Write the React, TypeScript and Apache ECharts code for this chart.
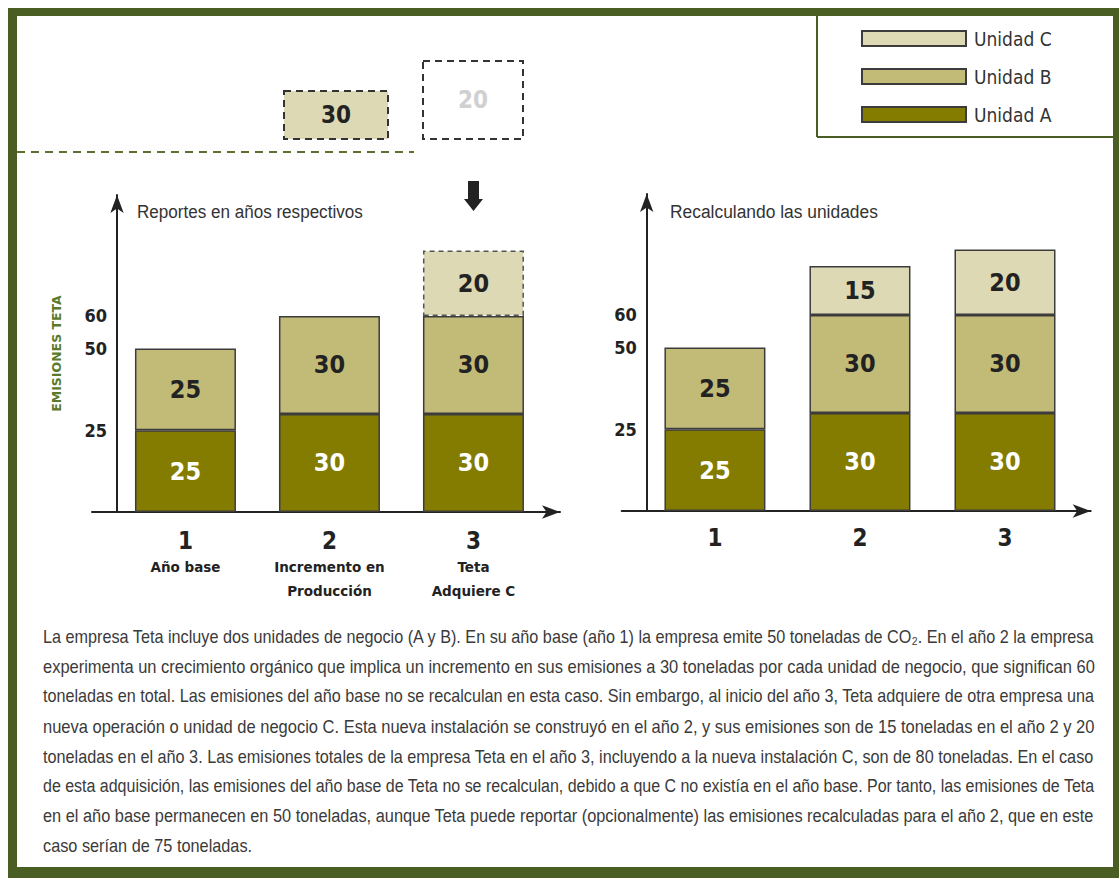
import React, { useEffect, useRef } from "react";
import * as echarts from "echarts";

// ---- data ----
const xPos = [1, 2, 3];
const leftCategoryLabels = ["Año base", "Incremento en\nProducción", "Teta\nAdquiere C"];
const reportedA = [25, 30, 30];
const reportedB = [25, 30, 30];
const reportedC: (number | null)[] = [null, null, 20];
const recalcA = [25, 30, 30];
const recalcB = [25, 30, 30];
const recalcC: (number | null)[] = [null, 15, 20];
const yTickValues = [25, 50, 60];
const unitNames = ["Unidad A", "Unidad B", "Unidad C"];
const leftTitle = "Reportes en años respectivos";
const rightTitle = "Recalculando las unidades";
const yAxisName = "EMISIONES TETA";
const topBoxValues = ["30", "20"];
const paragraphLines = [
  "La empresa Teta incluye dos unidades de negocio (A y B). En su año base (año 1) la empresa emite 50 toneladas de CO₂. En el año 2 la empresa",
  "experimenta un crecimiento orgánico que implica un incremento en sus emisiones a 30 toneladas por cada unidad de negocio, que significan 60",
  "toneladas en total. Las emisiones del año base no se recalculan en esta caso. Sin embargo, al inicio del año 3, Teta adquiere de otra empresa una",
  "nueva operación o unidad de negocio C. Esta nueva instalación se construyó en el año 2, y sus emisiones son de 15 toneladas en el año 2 y 20",
  "toneladas en el año 3. Las emisiones totales de la empresa Teta en el año 3, incluyendo a la nueva instalación C, son de 80 toneladas. En el caso",
  "de esta adquisición, las emisiones del año base de Teta no se recalculan, debido a que C no existía en el año base. Por tanto, las emisiones de Teta",
  "en el año base permanecen en 50 toneladas, aunque Teta puede reportar (opcionalmente) las emisiones recalculadas para el año 2, que en este",
  "caso serían de 75 toneladas.",
];

// ---- styles ----
const COND = '"DejaVu Sans Condensed", "Liberation Sans Narrow", sans-serif';
const BOLDW = '"DejaVu Sans", "Liberation Sans", sans-serif';
const TEXTF = "Liberation Sans";
const COL_A = "#847c00";
const COL_B = "#c2bb78";
const COL_C = "#ddd9b4";
const FRAME = "#4a5d23";
const INK = "#222";

let measureCtx: CanvasRenderingContext2D | null = null;
function measure(text: string, size: number, weight = "normal") {
  if (!measureCtx) measureCtx = document.createElement("canvas").getContext("2d");
  if (!measureCtx) return text.length * size * 0.5;
  measureCtx.font = `${weight} ${size}px "${TEXTF}"`;
  return measureCtx.measureText(text).width;
}

// A text squeezed horizontally to fit a target width (the original uses a condensed face)
function fitText(text: string, x: number, y: number, size: number, target: number, fill: string, weight = "normal", align = "left") {
  const w = measure(text, size, weight);
  const s = Math.min(1, target / w);
  return {
    type: "text",
    x,
    y,
    scaleX: s,
    style: { text, fill, fontSize: size, fontWeight: weight, fontFamily: TEXTF, align, verticalAlign: "middle" },
  };
}

function barSeries(
  name: string,
  values: (number | null)[],
  idx: number,
  color: string,
  labelColor: string,
  dashed = false
) {
  return {
    type: "bar",
    name,
    xAxisIndex: idx,
    yAxisIndex: idx,
    stack: "g" + idx,
    barWidth: 101,
    encode: { x: 1, y: 0 },
    data: values.map((v, i) => [v == null ? "-" : v, xPos[i]]),
    itemStyle: {
      color,
      borderColor: dashed ? "#555" : "#3c3c3c",
      borderWidth: 1.5,
      borderType: dashed ? [5, 4] : "solid",
    },
    label: {
      show: true,
      position: "inside",
      formatter: (p: any) => String(p.value[0]),
      color: labelColor,
      fontSize: 25,
      fontWeight: "bold",
      fontFamily: COND,
    },
  };
}

function xAxisDef(idx: number, min: number, max: number, withNames: boolean) {
  return {
    type: "value",
    gridIndex: idx,
    min,
    max,
    splitLine: { show: false },
    axisTick: { show: false },
    axisLine: {
      show: true,
      onZero: false,
      symbol: ["none", "arrow"],
      symbolSize: [10, 18],
      lineStyle: { color: INK, width: 2 },
    },
    axisLabel: {
      customValues: xPos,
      margin: withNames ? 15 : 13,
      formatter: (v: number) => {
        const i = xPos.indexOf(v);
        if (i < 0) return "";
        if (!withNames) return "{n|" + v + "}";
        const parts = leftCategoryLabels[i].split("\n").map((s) => "{d|" + s + "}");
        return ["{n|" + v + "}", ...parts].join("\n");
      },
      rich: {
        n: { fontSize: 24, fontWeight: "bold", fontFamily: COND, color: INK, lineHeight: 28 },
        d: { fontSize: 13.5, fontWeight: "bold", fontFamily: BOLDW, color: INK, lineHeight: 24 },
      },
    },
  };
}

function yAxisDef(idx: number, withName: boolean) {
  const ax: any = {
    type: "value",
    gridIndex: idx,
    min: 0,
    max: 97,
    offset: -25,
    splitLine: { show: false },
    axisTick: { show: false },
    axisLine: {
      show: true,
      onZero: false,
      symbol: ["none", "arrow"],
      symbolSize: [10, 18],
      lineStyle: { color: INK, width: 2 },
    },
    axisLabel: {
      customValues: yTickValues,
      margin: 10,
      fontSize: 18,
      fontWeight: "bold",
      fontFamily: COND,
      color: INK,
    },
  };
  if (withName) {
    ax.name = yAxisName;
    ax.nameLocation = "middle";
    ax.nameRotate = 90;
    ax.nameGap = 54;
    ax.nameTextStyle = { color: "#5a7a2a", fontSize: 12.5, fontWeight: "bold", fontFamily: BOLDW };
  }
  return ax;
}

export default function App() {
  const ref = useRef<HTMLDivElement>(null);
  useEffect(() => {
    if (!ref.current) return;
    const chart = echarts.init(ref.current, null, { renderer: "svg" });
    const dashBox = { stroke: "#333", lineWidth: 2, lineDash: [7, 5] };

    const PARA_W = 1052;
    const paraScales = paragraphLines.map((t) => PARA_W / measure(t, 18));
    const fullScales = paraScales.slice(0, -1);
    const avgScale = fullScales.reduce((a, b) => a + b, 0) / fullScales.length;

    const graphics: any[] = [
      { type: "rect", z: -20, shape: { x: 8, y: 8, width: 1111, height: 870 }, style: { fill: FRAME } },
      { type: "rect", z: -19, shape: { x: 17, y: 16, width: 1096, height: 851 }, style: { fill: "#fff" } },
      { type: "line", shape: { x1: 817, y1: 16, x2: 817, y2: 137 }, style: { stroke: FRAME, lineWidth: 2 } },
      { type: "line", shape: { x1: 817, y1: 137, x2: 1113, y2: 137 }, style: { stroke: FRAME, lineWidth: 2 } },
      {
        type: "line",
        shape: { x1: 17, y1: 152, x2: 414, y2: 152 },
        style: { stroke: "#5b6f2c", lineWidth: 2, lineDash: [8, 6] },
      },
      { type: "rect", shape: { x: 284, y: 91, width: 104, height: 48 }, style: { fill: COL_C, ...dashBox } },
      {
        type: "text",
        x: 336,
        y: 115,
        style: { text: topBoxValues[0], fill: INK, fontSize: 24, fontWeight: "bold", fontFamily: COND, align: "center", verticalAlign: "middle" },
      },
      { type: "rect", shape: { x: 423, y: 61, width: 100, height: 78 }, style: { fill: "#fff", ...dashBox } },
      {
        type: "text",
        x: 473,
        y: 100,
        style: { text: topBoxValues[1], fill: "#d0d0d0", fontSize: 24, fontWeight: "bold", fontFamily: COND, align: "center", verticalAlign: "middle" },
      },
      {
        type: "polygon",
        shape: { points: [[468, 181], [479, 181], [479, 199], [483, 199], [473.5, 211], [464, 199], [468, 199]] },
        style: { fill: INK },
      },
      fitText(leftTitle, 137, 212, 19, 226, "#333"),
      fitText(rightTitle, 670, 212, 19, 208, "#333"),
      ...paragraphLines.map((t, i) => {
        const s = i < paragraphLines.length - 1 ? paraScales[i] : avgScale;
        return {
          type: "text",
          x: 43,
          y: 637 + i * 29.8,
          scaleX: s,
          style: { text: t, fill: "#3a3a3a", fontSize: 18, fontFamily: TEXTF, verticalAlign: "middle" },
        };
      }),
    ];

    chart.setOption({
      animation: false,
      backgroundColor: "#fff",
      legend: {
        show: true,
        orient: "vertical",
        left: 861,
        top: 28.5,
        padding: 0,
        itemWidth: 104,
        itemHeight: 15,
        itemGap: 18,
        icon: "rect",
        selectedMode: false,
        data: [unitNames[2], unitNames[1], unitNames[0]],
        textStyle: { color: "#333", fontSize: 19, lineHeight: 20, fontFamily: COND, padding: [0, 0, 0, 3] },
      },
      grid: [
        { left: 92, top: 195, width: 468, height: 317 },
        { left: 621.7, top: 194, width: 469, height: 317 },
      ],
      xAxis: [xAxisDef(0, 0.351, 3.601, true), xAxisDef(1, 0.357, 3.591, false)],
      yAxis: [yAxisDef(0, true), yAxisDef(1, false)],
      series: [
        barSeries(unitNames[0], recalcA, 1, COL_A, "#fff"),
        barSeries(unitNames[1], recalcB, 1, COL_B, INK),
        barSeries(unitNames[2], recalcC, 1, COL_C, INK),
        barSeries(unitNames[0], reportedA, 0, COL_A, "#fff"),
        barSeries(unitNames[1], reportedB, 0, COL_B, INK),
        barSeries(unitNames[2], reportedC, 0, COL_C, INK, true),
      ],
      graphic: graphics,
    });
    return () => chart.dispose();
  }, []);
  return <div ref={ref} style={{ position: "absolute", left: 0, top: 0, width: 1119, height: 878 }} />;
}
